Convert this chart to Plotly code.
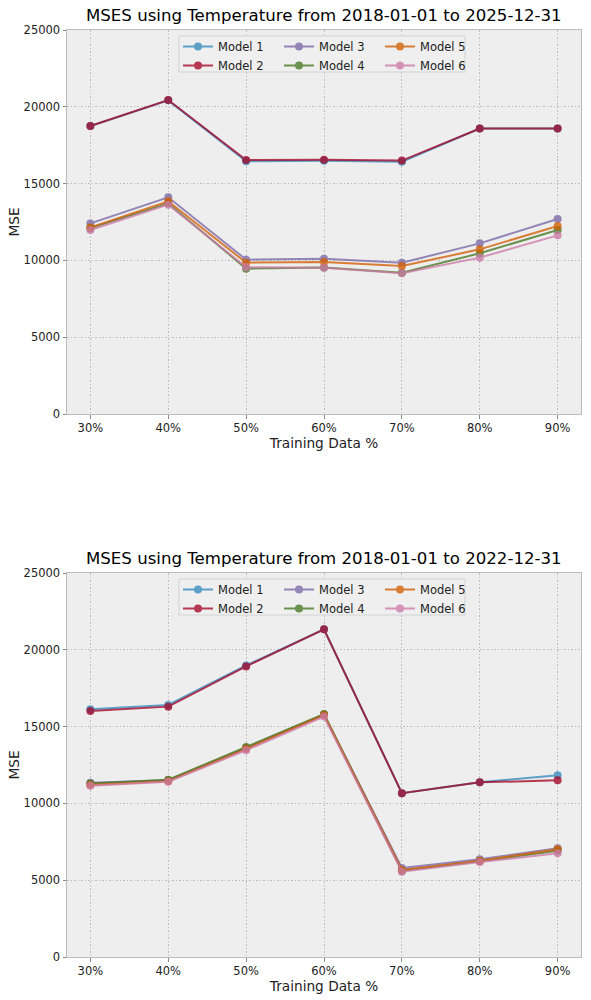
import plotly.graph_objects as go
from plotly.subplots import make_subplots

categories = ["30%", "40%", "50%", "60%", "70%", "80%", "90%"]
model_names = ["Model 1", "Model 2", "Model 3", "Model 4", "Model 5", "Model 6"]
colors = ["#348ABD", "#A60628", "#7A68A6", "#467821", "#D55E00", "#CC79A7"]

# Top chart: 2018-01-01 to 2025-12-31
top_m1 = [18750, 20420, 16450, 16480, 16430, 18580, 18580]
top_m2 = [18750, 20440, 16530, 16560, 16500, 18580, 18590]
top_m3 = [12410, 14110, 10050, 10110, 9850, 11110, 12700]
top_m4 = [12100, 13720, 9460, 9530, 9200, 10460, 11980]
top_m5 = [12150, 13850, 9850, 9900, 9630, 10720, 12240]
top_m6 = [11980, 13630, 9550, 9520, 9160, 10180, 11630]

# Bottom chart: 2018-01-01 to 2022-12-31
bot_m1 = [16130, 16410, 18980, 21330, 10660, 11370, 11830]
bot_m2 = [16020, 16300, 18920, 21330, 10660, 11370, 11500]
bot_m3 = [11350, 11500, 13600, 15780, 5790, 6360, 7080]
bot_m4 = [11300, 11540, 13670, 15820, 5620, 6230, 6920]
bot_m5 = [11200, 11450, 13550, 15750, 5660, 6270, 7010]
bot_m6 = [11150, 11410, 13460, 15650, 5550, 6180, 6750]

titles = ["MSES using Temperature from 2018-01-01 to 2025-12-31",
          "MSES using Temperature from 2018-01-01 to 2022-12-31"]
x_title = "Training Data %"
y_title = "MSE"

top_series = [top_m1, top_m2, top_m3, top_m4, top_m5, top_m6]
bot_series = [bot_m1, bot_m2, bot_m3, bot_m4, bot_m5, bot_m6]

W, H = 591, 1000
ML, MR, MT, MB = 67, 10, 30, 43
PW, PH = W - ML - MR, H - MT - MB

def px_x(px):
    return (px - ML) / PW

def px_y(py):
    return 1 - (py - MT) / PH

top_dom = [px_y(414), 1.0]
bot_dom = [0.0, px_y(573)]

fig = make_subplots(rows=2, cols=1)
FONT = "DejaVu Sans"
TXT = "#222222"

legend_cols_x = [178, 279, 380]
legend_names = ["legend", "legend2", "legend3", "legend4", "legend5", "legend6"]

for row, series in [(1, top_series), (2, bot_series)]:
    for i, (name, vals) in enumerate(zip(model_names, series)):
        col = i // 2
        lg = legend_names[(row - 1) * 3 + col]
        fig.add_trace(go.Scatter(
            x=categories, y=vals, name=name, mode="lines+markers",
            line=dict(color=colors[i], width=2),
            marker=dict(color=colors[i], size=8),
            opacity=0.78, legend=lg, showlegend=True,
        ), row=row, col=1)

layout_legends = {}
for row, top_px in [(1, 30), (2, 573)]:
    for col in range(3):
        lg = legend_names[(row - 1) * 3 + col]
        layout_legends[lg] = dict(
            x=px_x(legend_cols_x[col]), y=px_y(top_px + 2),
            xanchor="left", yanchor="top",
            bgcolor="rgba(0,0,0,0)", borderwidth=0,
            font=dict(family=FONT, size=11.5, color=TXT),
            orientation="v", tracegroupgap=0,
        )
fig.update_layout(**layout_legends)

shapes = []
annotations = []
for top_px, title in [(30, titles[0]), (573, titles[1])]:
    shapes.append(dict(
        type="rect", xref="paper", yref="paper", layer="above",
        x0=px_x(179), x1=px_x(465), y0=px_y(top_px + 6), y1=px_y(top_px + 42),
        fillcolor="#efefef", line=dict(color="#d2d2d2", width=1),
    ))
    annotations.append(dict(
        text=title, xref="paper", yref="paper", x=0.5, y=px_y(top_px),
        xanchor="center", yanchor="bottom", yshift=3, showarrow=False,
        font=dict(family=FONT, size=16.6, color="#000000"),
    ))

axis_common = dict(
    showline=True, mirror=True, linecolor="#bcbcbc", linewidth=1,
    showgrid=True, gridcolor="#bdbdbd", griddash="1.5px,2px", gridwidth=0.8,
    ticks="outside", ticklen=3.5, tickcolor="#8a8a8a",
    tickfont=dict(family=FONT, size=11.5, color=TXT),
    zeroline=False,
)

for r, dom in [(1, top_dom), (2, bot_dom)]:
    fig.update_xaxes(axis_common, row=r, col=1, type="category",
                     categoryorder="array", categoryarray=categories,
                     range=[-0.3, 6.3],
                     title=dict(text=x_title, font=dict(family=FONT, size=13.7, color=TXT), standoff=1))
    fig.update_yaxes(axis_common, row=r, col=1, domain=dom,
                     range=[0, 25000], tickvals=[0, 5000, 10000, 15000, 20000, 25000],
                     tickformat="d",
                     title=dict(text=y_title, font=dict(family=FONT, size=13.7, color=TXT), standoff=0))

fig.update_layout(
    width=W, height=H,
    margin=dict(l=ML, r=MR, t=MT, b=MB),
    paper_bgcolor="white", plot_bgcolor="#eeeeee",
    font=dict(family=FONT, color=TXT),
    shapes=shapes, annotations=annotations,
)

fig.write_html("out.html")
